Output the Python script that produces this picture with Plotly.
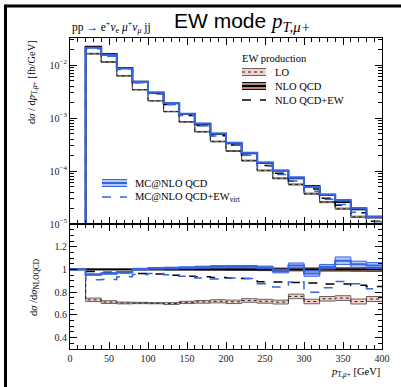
import plotly.graph_objects as go

# ---------------- data ----------------
edges = list(range(0, 401, 20))  # bin edges 0..400 GeV (first bin 0-20 empty)
nlo_qcd = [0.0, 2.23e-2, 1.6e-2, 8.85e-3, 4.84e-3, 3.0e-3, 1.89e-3, 1.19e-3, 7.7e-4, 5.0e-4,
           3.33e-4, 2.16e-4, 1.42e-4, 1.02e-4, 7.3e-5, 5.2e-5, 3.5e-5, 2.6e-5, 1.9e-5, 1.33e-5]
r_lo = [1.0, 0.733, 0.713, 0.705, 0.705, 0.703, 0.700, 0.710, 0.715, 0.720,
        0.715, 0.727, 0.720, 0.713, 0.763, 0.718, 0.742, 0.748, 0.718, 0.740]
r_lo_hw = [0.0, 0.015, 0.012, 0.008, 0.006, 0.005, 0.008, 0.010, 0.012, 0.014,
           0.015, 0.016, 0.017, 0.017, 0.020, 0.020, 0.020, 0.021, 0.022, 0.022]
r_nlo = [1.0] * 20
r_nlo_hw = [0.0, 0.003, 0.003, 0.003, 0.004, 0.004, 0.005, 0.005, 0.006, 0.006,
            0.007, 0.008, 0.010, 0.012, 0.012, 0.013, 0.014, 0.014, 0.015, 0.016]
r_nlo_ew = [1.0, 0.982, 0.975, 0.970, 0.965, 0.960, 0.950, 0.940, 0.935, 0.930,
            0.925, 0.920, 0.892, 0.890, 0.885, 0.880, 0.872, 0.872, 0.862, 0.850]
r_mc = [1.0, 0.955, 0.965, 0.975, 1.003, 1.010, 1.012, 1.015, 1.020, 1.024,
        1.024, 1.024, 1.018, 0.985, 1.035, 0.965, 1.024, 1.077, 1.045, 1.035]
r_mc_hw = [0.0, 0.006, 0.006, 0.006, 0.007, 0.007, 0.008, 0.008, 0.009, 0.010,
           0.010, 0.011, 0.012, 0.015, 0.022, 0.025, 0.020, 0.033, 0.028, 0.025]
r_mc_ew = [1.0, 0.910, 0.912, 0.935, 0.955, 0.965, 0.953, 0.940, 0.925, 0.915,
           0.925, 0.920, 0.875, 0.845, 0.890, 0.800, 0.840, 0.895, 0.875, 0.830]

ytick_vals = [1e-5, 1e-4, 1e-3, 1e-2]
ytick_text = ["10<sup>−5</sup>", "10<sup>−4</sup>", "10<sup>−3</sup>", "10<sup>−2</sup>"]
rtick_vals = [0.4, 0.6, 0.8, 1.0, 1.2]
rtick_text = ["0.4", "0.6", "0.8", "1", "1.2"]

# ---------------- styles ----------------
BLUE = "#3565e0"
BLUE_FILL = "rgba(90,130,235,0.45)"
LO_FILL = "#f5d0c8"
NLO_FILL = "#b88a80"
SERIF = "Liberation Serif, DejaVu Serif, serif"
FLOOR = 1e-9  # empty bin on the log panel

W, H = 401, 387
L, R, T, B = 70, 382, 38, 349
SPLIT = 224


def px(x):
    return (x - L) / (R - L)


def py(y):
    return (B - y) / (B - T)


def steps(vals):
    return edges, list(vals) + [vals[-1]]


fig = go.Figure()


def add_series(ratio, hw, base, xa, ya, fill, edge_col, edge_w, center_col, center_w, dash):
    if base is None:
        vals = list(ratio)
        lo = [r - h for r, h in zip(ratio, hw)] if hw else None
        hi = [r + h for r, h in zip(ratio, hw)] if hw else None
    else:
        vals = [max(b * r, FLOOR) if b > 0 else FLOOR for b, r in zip(base, ratio)]
        lo = [max(b * (r - h), FLOOR) if b > 0 else FLOOR for b, r, h in zip(base, ratio, hw)] if hw else None
        hi = [max(b * (r + h), FLOOR) if b > 0 else FLOOR for b, r, h in zip(base, ratio, hw)] if hw else None
    if hw:
        xs, ys = steps(lo)
        fig.add_trace(go.Scatter(x=xs, y=ys, mode="lines", line=dict(color=edge_col, width=edge_w, shape="hv"),
                                 xaxis=xa, yaxis=ya, showlegend=False, hoverinfo="skip"))
        xs, ys = steps(hi)
        fig.add_trace(go.Scatter(x=xs, y=ys, mode="lines", line=dict(color=edge_col, width=edge_w, shape="hv"),
                                 fill="tonexty", fillcolor=fill,
                                 xaxis=xa, yaxis=ya, showlegend=False, hoverinfo="skip"))
    xs, ys = steps(vals)
    fig.add_trace(go.Scatter(x=xs, y=ys, mode="lines",
                             line=dict(color=center_col, width=center_w, shape="hv", dash=dash),
                             xaxis=xa, yaxis=ya, showlegend=False, hoverinfo="skip"))


for xa, ya, base in (("x", "y", nlo_qcd), ("x2", "y2", None)):
    add_series(r_lo, r_lo_hw, base, xa, ya, LO_FILL, "#555555", 0.9, "#222222", 1.0, "dot")
    add_series(r_nlo, r_nlo_hw, base, xa, ya, NLO_FILL, "#111111", 0.9, "#000000", 1.8, "solid")
    add_series(r_nlo_ew, None, base, xa, ya, None, None, None, "#000000", 1.5, "dash")
    add_series(r_mc, r_mc_hw, base, xa, ya, BLUE_FILL, BLUE, 1.0, BLUE, 2.0, "solid")
    add_series(r_mc_ew, None, base, xa, ya, None, None, None, BLUE, 1.5, "dash")

split_frac = (B - SPLIT) / (B - T)
tickfont = dict(family=SERIF, size=10, color="#222")
common_x = dict(range=[0, 400], ticks="inside", ticklen=7, tickwidth=1, tickcolor="black",
                dtick=50, tick0=0, mirror="allticks", showline=True, linecolor="black", linewidth=1.2,
                showgrid=False, zeroline=False, automargin=False,
                minor=dict(ticks="inside", dtick=10, ticklen=3.5, tickcolor="black", showgrid=False))
minor_log = [m * 10 ** e for e in (-5, -4, -3, -2) for m in range(2, 10)]
fig.update_layout(
    width=W, height=H, margin=dict(l=L, r=W - R, t=T, b=H - B),
    paper_bgcolor="white", plot_bgcolor="white", showlegend=False,
    xaxis=dict(domain=[0, 1], anchor="y", showticklabels=False, matches="x2", **common_x),
    xaxis2=dict(domain=[0, 1], anchor="y2", showticklabels=True, tickfont=tickfont, **common_x),
    yaxis=dict(domain=[split_frac, 1], anchor="x", type="log", range=[-5, -1.49],
               tickmode="array", tickvals=ytick_vals, ticktext=ytick_text, tickfont=tickfont,
               ticks="inside", ticklen=7, tickcolor="black", mirror="allticks", showline=True,
               linecolor="black", linewidth=1.2, showgrid=False, zeroline=False, automargin=False,
               minor=dict(ticks="inside", tickmode="array", tickvals=minor_log, ticklen=3.5,
                          tickcolor="black", showgrid=False)),
    yaxis2=dict(domain=[0, split_frac], anchor="x2", range=[0.3, 1.4],
                tickmode="array", tickvals=rtick_vals, ticktext=rtick_text, tickfont=tickfont,
                ticks="inside", ticklen=7, tickcolor="black", mirror="allticks", showline=True,
                linecolor="black", linewidth=1.2, showgrid=False, zeroline=False, automargin=False,
                minor=dict(ticks="inside", tickmode="linear", tick0=0.3, dtick=0.05, ticklen=3.5,
                           tickcolor="black", showgrid=False)),
)

ann = []
# title and process
ann.append(dict(x=px(172), y=py(22), xref="paper", yref="paper", xanchor="left", yanchor="middle",
                showarrow=False,
                text="EW mode <span style='font-family:Liberation Serif'><i>p</i><sub><i>T,μ+</i></sub></span>",
                font=dict(family="Liberation Sans, Arial, sans-serif", size=21, color="black")))
ann.append(dict(x=px(70), y=py(27), xref="paper", yref="paper", xanchor="left", yanchor="middle",
                showarrow=False,
                text="pp → e<sup>+</sup><i>ν</i><sub>e</sub> <i>μ</i><sup>+</sup><i>ν</i><sub><i>μ</i></sub> jj",
                font=dict(family=SERIF, size=11.5, color="black")))
# axis titles
ann.append(dict(x=px(32), y=py(82), xref="paper", yref="paper", xanchor="center", yanchor="middle",
                showarrow=False, textangle=-90,
                text="d<i>σ</i> / d<i>p</i><sub>T,<i>μ</i>+</sub> [fb/GeV]",
                font=dict(family=SERIF, size=10.5, color="black")))
ann.append(dict(x=px(34), y=py(287), xref="paper", yref="paper", xanchor="center", yanchor="middle",
                showarrow=False, textangle=-90,
                text="d<i>σ</i> /d<i>σ</i><sub>NLOQCD</sub>",
                font=dict(family=SERIF, size=10.5, color="black")))
ann.append(dict(x=1.0, y=py(372), xref="paper", yref="paper", xanchor="right", yanchor="middle",
                showarrow=False, text="<i>p</i><sub>T,<i>μ</i>+</sub> [GeV]",
                font=dict(family=SERIF, size=10.5, color="black")))
# legends
ann.append(dict(x=px(240), y=py(58), xref="paper", yref="paper", xanchor="left", yanchor="middle",
                showarrow=False, text="EW production", font=dict(family=SERIF, size=10.5, color="black")))
for yy, txt in ((72, "LO"), (86, "NLO QCD"), (100, "NLO QCD+EW")):
    ann.append(dict(x=px(273), y=py(yy), xref="paper", yref="paper", xanchor="left", yanchor="middle",
                    showarrow=False, text=txt, font=dict(family=SERIF, size=10.5, color="black")))
for yy, txt in ((183, "MC@NLO QCD"), (197, "MC@NLO QCD+EW<sub>virt</sub>")):
    ann.append(dict(x=px(133), y=py(yy), xref="paper", yref="paper", xanchor="left", yanchor="middle",
                    showarrow=False, text=txt, font=dict(family=SERIF, size=10.5, color="black")))

shapes = []


def band_sample(x0, x1, yc, fill, edge, center, cw, cdash):
    shapes.append(dict(type="rect", xref="paper", yref="paper", x0=px(x0), x1=px(x1),
                       y0=py(yc + 3.5), y1=py(yc - 3.5), fillcolor=fill, line=dict(width=0)))
    for dy in (-3.5, 3.5):
        shapes.append(dict(type="line", xref="paper", yref="paper", x0=px(x0), x1=px(x1),
                           y0=py(yc + dy), y1=py(yc + dy), line=dict(color=edge, width=1)))
    shapes.append(dict(type="line", xref="paper", yref="paper", x0=px(x0), x1=px(x1),
                       y0=py(yc), y1=py(yc), line=dict(color=center, width=cw, dash=cdash)))


def line_sample(x0, x1, yc, color, w, dash):
    shapes.append(dict(type="line", xref="paper", yref="paper", x0=px(x0), x1=px(x1),
                       y0=py(yc), y1=py(yc), line=dict(color=color, width=w, dash=dash)))


band_sample(242, 266, 72, LO_FILL, "#666", "#222", 1.0, "dot")
band_sample(242, 266, 86, NLO_FILL, "#111", "#000", 2.0, "solid")
line_sample(242, 266, 100, "#000", 1.5, "dash")
band_sample(102, 127, 183, BLUE_FILL, BLUE, BLUE, 2.0, "solid")
line_sample(102, 127, 197, BLUE, 1.5, "dash")

# outer frame (top and left)
shapes.append(dict(type="line", xref="paper", yref="paper", x0=px(5.5), x1=px(401), y0=py(6), y1=py(6),
                   line=dict(color="black", width=3)))
shapes.append(dict(type="line", xref="paper", yref="paper", x0=px(5.5), x1=px(5.5), y0=py(4.5), y1=py(387),
                   line=dict(color="black", width=3)))

fig.update_layout(annotations=ann, shapes=shapes)
fig.write_html("out.html")
